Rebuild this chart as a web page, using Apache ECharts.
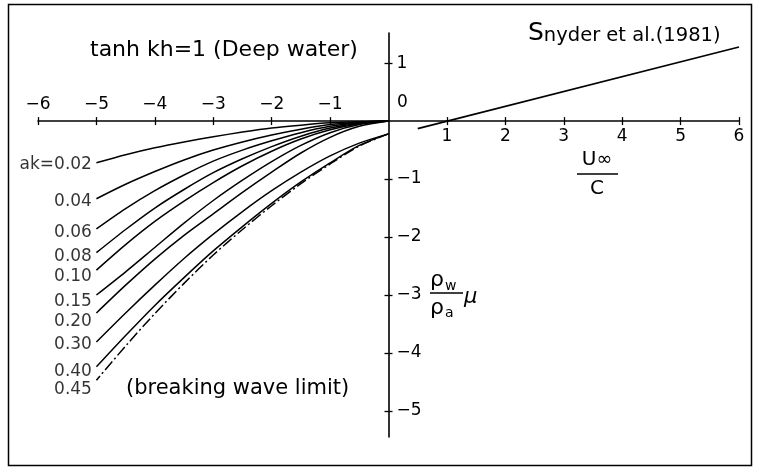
<!DOCTYPE html>
<html>
<head>
<meta charset="utf-8">
<script src="https://cdn.jsdelivr.net/npm/echarts@6/dist/echarts.min.js"></script>
<style>
  html, body { margin: 0; padding: 0; background: #fff; }
  #chart { width: 759px; height: 468px; }
</style>
</head>
<body>
<div id="chart"></div>
<script>
// Wind speed ratio U∞/C at which each damping curve is sampled (opposing wind side)
const uOverC = [0, -0.5, -1, -1.5, -2, -2.5, -3, -3.5, -4, -4.5, -5];

// (ρw/ρa)·μ for each wave steepness ak
const ak002 = [0, -0.01, -0.03, -0.07, -0.12, -0.19, -0.27, -0.36, -0.46, -0.58, -0.72];
const ak004 = [0, -0.02, -0.06, -0.14, -0.24, -0.36, -0.50, -0.67, -0.87, -1.09, -1.34];
const ak006 = [0, -0.025, -0.09, -0.20, -0.34, -0.50, -0.69, -0.93, -1.20, -1.51, -1.86];
const ak008 = [0, -0.035, -0.12, -0.26, -0.44, -0.65, -0.89, -1.18, -1.50, -1.87, -2.27];
const ak010 = [0, -0.045, -0.15, -0.31, -0.52, -0.77, -1.06, -1.38, -1.73, -2.13, -2.57];
const ak015 = [0, -0.06, -0.20, -0.42, -0.70, -1.02, -1.37, -1.76, -2.18, -2.60, -3.00];
const ak020 = [0, -0.09, -0.28, -0.55, -0.88, -1.23, -1.60, -1.97, -2.38, -2.83, -3.31];
const ak030 = [-0.22, -0.38, -0.60, -0.88, -1.20, -1.56, -1.95, -2.37, -2.83, -3.31, -3.81];
const ak040 = [-0.22, -0.42, -0.72, -1.05, -1.42, -1.82, -2.24, -2.70, -3.18, -3.70, -4.24];
const ak045 = [-0.22, -0.43, -0.74, -1.08, -1.46, -1.87, -2.31, -2.80, -3.32, -3.88, -4.47];

const steepnessLabels = ['ak=0.02', '0.04', '0.06', '0.08', '0.10', '0.15', '0.20', '0.30', '0.40', '0.45'];

// Snyder et al. (1981) empirical growth line
const snyderX = [0.5, 6];
const snyderY = [-0.13, 1.28];

// Axis ranges, ticks and their printed labels
const xMin = -6, xMax = 6;
const yMin = -5.45, yMax = 1.52;
const xTicks = [-6, -5, -4, -3, -2, -1, 1, 2, 3, 4, 5, 6];
const xNegValues = [-6, -5, -4, -3, -2, -1, 0];
const xNegLabels = ['−6', '−5', '−4', '−3', '−2', '−1', '0'];
const xPosValues = [1, 2, 3, 4, 5, 6];
const xPosLabels = ['1', '2', '3', '4', '5', '6'];
const yTicks = [-5, -4, -3, -2, -1, 1];
const yLabels = ['−5', '−4', '−3', '−2', '−1', '1'];

const FONT = 'DejaVu Sans';
const INK = '#000';

// vertical nudge (px) of each steepness label below its curve end, so crowded labels don't touch
const labelNudge = [2, 3, 4, 4, 7, 7, 9, 3, 5, 9];

// plot box; both axes cross at the origin, so each axis is shifted in from its edge
const W = 759, H = 468;
const G = { left: 38, right: 20, top: 33, bottom: 31 };
const plotW = W - G.left - G.right;
const plotH = H - G.top - G.bottom;
const zeroY = plotH * (yMax / (yMax - yMin));        // distance of y=0 below the top edge
const zeroX = plotW * (-xMin / (xMax - xMin));       // distance of x=0 right of the left edge

const curves = [ak002, ak004, ak006, ak008, ak010, ak015, ak020, ak030, ak040, ak045];

const curveSeries = curves.map((ys, i) => ({
  type: 'line',
  name: steepnessLabels[i],
  xAxisIndex: 0,
  yAxisIndex: 0,
  smooth: 0.3,
  symbol: 'none',
  silent: true,
  lineStyle: {
    color: INK,
    width: 1.5,
    type: i === curves.length - 1 ? [11, 3, 2, 3] : 'solid'
  },
  data: ys.map((y, j) => [uOverC[j], y])
}));

// steepness labels sit at the far (left) end of each curve
const labelSeries = {
  type: 'scatter',
  xAxisIndex: 0,
  yAxisIndex: 0,
  symbolSize: 1,
  silent: true,
  itemStyle: { color: 'rgba(0,0,0,0)' },
  label: {
    show: true,
    position: 'left',
    distance: 4,
    color: INK,
    fontFamily: FONT,
    fontSize: 17
  },
  data: curves.map((ys, i) => ({
    value: [uOverC[uOverC.length - 1], ys[ys.length - 1]],
    label: { formatter: steepnessLabels[i], offset: [0, labelNudge[i]] }
  }))
};

const snyderSeries = {
  type: 'line',
  xAxisIndex: 0,
  yAxisIndex: 0,
  symbol: 'none',
  silent: true,
  lineStyle: { color: INK, width: 1.6 },
  data: snyderX.map((x, i) => [x, snyderY[i]])
};

const axisFont = { color: INK, fontFamily: FONT, fontSize: 17 };
const tickStyle = { color: INK, width: 1.3 };

const option = {
  animation: false,
  backgroundColor: '#fff',
  grid: { left: G.left, right: G.right, top: G.top, bottom: G.bottom, containLabel: false, outerBoundsMode: 'none' },
  xAxis: [
    {
      // axis line, upward ticks and the negative labels above it
      type: 'value', min: xMin, max: xMax, interval: 1, position: 'top', offset: -zeroY,
      axisLine: { show: true, onZero: false, lineStyle: { color: INK, width: 1.6 } },
      axisTick: { show: true, inside: false, length: 4, customValues: xTicks, lineStyle: tickStyle },
      axisLabel: Object.assign({
        show: true, margin: 8, customValues: xNegValues,
        formatter: (v) => {
          const k = xNegValues.indexOf(Math.round(v));
          return v === 0 ? '{z|0}' : xNegLabels[k];
        },
        rich: { z: { padding: [0, 0, 2, 28], fontFamily: FONT, fontSize: 17, color: INK } }
      }, axisFont),
      splitLine: { show: false }
    },
    {
      // downward ticks and the positive labels below the line
      type: 'value', min: xMin, max: xMax, interval: 1, position: 'bottom', offset: -(plotH - zeroY),
      axisLine: { show: false, onZero: false },
      axisTick: { show: true, inside: false, length: 4, customValues: xTicks, lineStyle: tickStyle },
      axisLabel: Object.assign({
        show: true, margin: 7, customValues: xPosValues,
        formatter: (v) => xPosLabels[xPosValues.indexOf(Math.round(v))]
      }, axisFont),
      splitLine: { show: false }
    }
  ],
  yAxis: [
    {
      type: 'value', min: yMin, max: yMax, position: 'right', offset: -(plotW - zeroX),
      axisLine: { show: true, onZero: false, lineStyle: { color: INK, width: 1.6 } },
      axisTick: { show: true, inside: false, length: 4, customValues: yTicks, lineStyle: tickStyle },
      axisLabel: Object.assign({
        show: true, margin: 8, customValues: yTicks,
        formatter: (v) => yLabels[yTicks.indexOf(Math.round(v))]
      }, axisFont),
      splitLine: { show: false }
    },
    {
      type: 'value', min: yMin, max: yMax, position: 'left', offset: -zeroX,
      axisLine: { show: false, onZero: false },
      axisTick: { show: true, inside: false, length: 4, customValues: yTicks, lineStyle: tickStyle },
      axisLabel: { show: false },
      splitLine: { show: false }
    }
  ],
  graphic: [
    { type: 'rect', shape: { x: 8.5, y: 4.5, width: 743, height: 461 },
      style: { fill: 'none', stroke: INK, lineWidth: 1.5 }, silent: true },
    { type: 'text', x: 90, y: 50,
      style: { text: 'tanh kh=1 (Deep water)', font: '22px "DejaVu Sans"', fill: INK, verticalAlign: 'middle' } },
    { type: 'text', x: 528, y: 46,
      style: {
        text: '{s|S}{t|nyder et al.(1981)}', fill: INK, verticalAlign: 'bottom',
        rich: {
          s: { fontFamily: FONT, fontSize: 25, verticalAlign: 'bottom', fill: INK },
          t: { fontFamily: FONT, fontSize: 19.5, verticalAlign: 'bottom', fill: INK }
        }
      } },
    { type: 'text', x: 126, y: 389,
      style: { text: '(breaking wave limit)', font: '21px "DejaVu Sans"', fill: INK, verticalAlign: 'middle' } },
    // U∞ / C
    { type: 'text', x: 597, y: 160,
      style: {
        text: '{u|U}{i|∞}', fill: INK, align: 'center', verticalAlign: 'middle',
        rich: {
          u: { fontFamily: FONT, fontSize: 20, verticalAlign: 'bottom', fill: INK },
          i: { fontFamily: FONT, fontSize: 19, verticalAlign: 'bottom', fill: INK }
        }
      } },
    { type: 'line', shape: { x1: 577, y1: 174, x2: 618, y2: 174 }, style: { stroke: INK, lineWidth: 1.4 } },
    { type: 'text', x: 597, y: 189,
      style: { text: 'C', font: '20px "DejaVu Sans"', fill: INK, align: 'center', verticalAlign: 'middle' } },
    // ρw / ρa · μ
    { type: 'text', x: 430, y: 280,
      style: { text: 'ρ', font: '22px "DejaVu Sans"', fill: INK, verticalAlign: 'middle' } },
    { type: 'text', x: 445, y: 286,
      style: { text: 'w', font: '14px "DejaVu Sans"', fill: INK, verticalAlign: 'middle' } },
    { type: 'line', shape: { x1: 430, y1: 293, x2: 463, y2: 293 }, style: { stroke: INK, lineWidth: 1.4 } },
    { type: 'text', x: 430, y: 308,
      style: { text: 'ρ', font: '22px "DejaVu Sans"', fill: INK, verticalAlign: 'middle' } },
    { type: 'text', x: 445, y: 313,
      style: { text: 'a', font: '14px "DejaVu Sans"', fill: INK, verticalAlign: 'middle' } },
    { type: 'text', x: 464, y: 298,
      style: { text: 'μ', font: 'italic 21px "DejaVu Sans"', fill: INK, verticalAlign: 'middle' } }
  ],
  series: curveSeries.concat([labelSeries, snyderSeries])
};

const chart = echarts.init(document.getElementById('chart'), null, { renderer: 'canvas' });
chart.setOption(option);
</script>
</body>
</html>
